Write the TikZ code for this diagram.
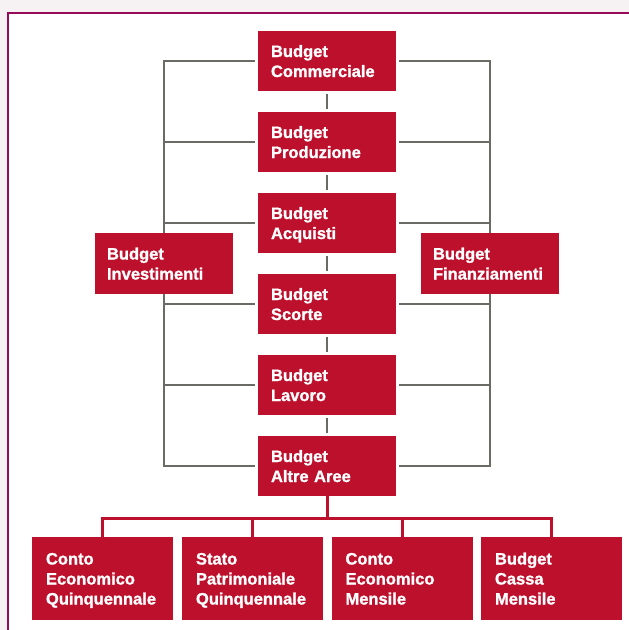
\documentclass[tikz,border=0pt]{standalone}
\usepackage{fontspec}
\setmainfont{Liberation Sans}[BoldFeatures={FakeBold=1.2}]
\definecolor{boxred}{RGB}{188,16,44}
\definecolor{lineg}{RGB}{108,106,100}
\definecolor{framec}{RGB}{150,10,88}
\definecolor{outbg}{RGB}{246,242,243}
\begin{document}
\begin{tikzpicture}[x=1pt,y=-1pt,
  bbox/.style={rectangle, fill=boxred, text=white, align=left, inner ysep=0pt,
    font=\fontsize{16.5}{20}\selectfont\bfseries,
    execute at begin node={\rule{0pt}{18pt}},
    execute at end node={\strut}},
  cbox/.style={bbox, inner xsep=13pt, text width=112pt, minimum height=60pt},
  sbox/.style={bbox, inner xsep=12pt, text width=114pt, minimum height=61pt},
  lbox/.style={bbox, inner xsep=14pt, text width=113pt, minimum height=83pt},
  gline/.style={draw=lineg, line width=2.2pt},
  rline/.style={draw=boxred, line width=3pt}]
\useasboundingbox (0,0) rectangle (629,630);
\clip (0,0) rectangle (629,630);
\fill[outbg] (0,0) rectangle (629,630);
\filldraw[fill=white, draw=framec, line width=2.5pt] (8,13) rectangle (660,660);

% central column
\node[cbox] (c1) at (327,61)  {Budget\\Commerciale};
\node[cbox] (c2) at (327,142) {Budget\\Produzione};
\node[cbox] (c3) at (327,223) {Budget\\Acquisti};
\node[cbox] (c4) at (327,304) {Budget\\Scorte};
\node[cbox] (c5) at (327,385) {Budget\\Lavoro};
\node[cbox] (c6) at (327,466) {Budget\\Altre Aree};

% side boxes
\node[sbox] (inv) at (164,263.5) {Budget\\Investimenti};
\node[sbox] (fin) at (490,263.5) {Budget\\Finanziamenti};

% bottom boxes
\node[lbox] (b1) at (102.5,578.5) {Conto\\Economico\\Quinquennale};
\node[lbox] (b2) at (252.5,578.5) {Stato\\Patrimoniale\\Quinquennale};
\node[lbox] (b3) at (402,578.5)   {Conto\\Economico\\Mensile};
\node[lbox] (b4) at (551.5,578.5) {Budget\\Cassa\\Mensile};

% grey connectors, central column
\foreach \a/\b in {c1/c2,c2/c3,c3/c4,c4/c5,c5/c6}
  \draw[gline, shorten <=3pt, shorten >=3pt] (\a.south) -- (\b.north);

% left bus
\draw[gline, shorten <=3pt] (c1.west) -| (inv.north);
\draw[gline, shorten <=3pt] (c6.west) -| (inv.south);
\foreach \n in {c2,c3,c4,c5}
  \draw[gline, shorten <=3pt] (\n.west) -- (\n.west -| inv.north);

% right bus
\draw[gline, shorten <=3pt] (c1.east) -| (fin.north);
\draw[gline, shorten <=3pt] (c6.east) -| (fin.south);
\foreach \n in {c2,c3,c4,c5}
  \draw[gline, shorten <=3pt] (\n.east) -- (\n.east -| fin.north);

% red connectors
\coordinate (bus) at (327,518);
\draw[rline] (c6.south) -- (bus);
\draw[rline] (b1.north) |- (bus) -| (b4.north);
\draw[rline] (b2.north) -- (b2.north |- bus);
\draw[rline] (b3.north) -- (b3.north |- bus);
\end{tikzpicture}
\end{document}
